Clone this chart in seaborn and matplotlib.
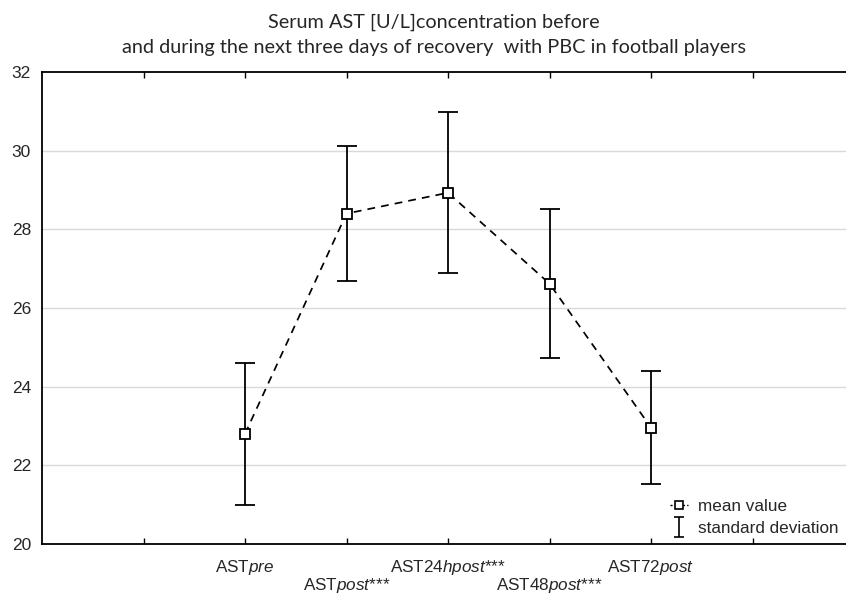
import matplotlib
matplotlib.use("Agg")
import matplotlib.pyplot as plt
import seaborn as sns
import pandas as pd
from matplotlib.lines import Line2D
from matplotlib.path import Path

# Serum AST values (mean and standard deviation) per measurement point
stages = ["pre", "post", "24hpost", "48post", "72post"]
stars = ["", "***", "***", "***", ""]
mean_ast = [22.8, 28.4, 28.93, 26.62, 22.96]
sd_ast = [1.8, 1.71, 2.05, 1.89, 1.43]
y_ticks = [20, 22, 24, 26, 28, 30, 32]

sns.set_theme(style="white")
plt.rcParams["font.family"] = ["Liberation Sans", "DejaVu Sans"]
plt.rcParams["mathtext.fontset"] = "custom"
plt.rcParams["mathtext.rm"] = "Liberation Sans"
plt.rcParams["mathtext.it"] = "Liberation Sans:italic"

df = pd.DataFrame({"pos": list(range(2, 2 + len(stages))),
                   "mean": mean_ast, "sd": sd_ast})

fig = plt.figure(figsize=(8.46, 5.95), dpi=100)
ax = fig.add_axes([42 / 846, 1 - 544 / 595, 1 - 42 / 846, (544 - 72) / 595])

# light horizontal grid
for v in y_ticks[1:-1]:
    ax.axhline(v, color="#d9d9d9", lw=1.0, zorder=0)

# standard deviation bars
ax.errorbar(df["pos"], df["mean"], yerr=df["sd"], fmt="none", ecolor="black",
            elinewidth=1.3, capsize=7.5, capthick=1.3, zorder=2)

# mean values joined by a dashed line
sns.lineplot(data=df, x="pos", y="mean", ax=ax, color="black", lw=1.25,
             linestyle=(0, (4.5, 3.5)), marker="s", markersize=7,
             markerfacecolor="white", markeredgecolor="black",
             markeredgewidth=1.3, zorder=3)

ax.set_xlim(0, (846 - 42) / 101.5)
ax.set_ylim(20, 32)
ax.set_yticks(y_ticks)
ax.set_yticklabels([str(v) for v in y_ticks], fontsize=12.5)

tick_pos = list(range(1, 8))
tick_labels = [""] + [r"AST$\mathit{%s}$%s" % (s, st) for s, st in zip(stages, stars)] + [""]
ax.set_xticks(tick_pos)
ax.set_xticklabels(tick_labels, fontsize=12.3)
ax.set_xlabel("")
ax.set_ylabel("")

ax.tick_params(axis="x", which="both", direction="in", length=4, width=1,
               top=True, bottom=True, color="black")
ax.tick_params(axis="y", which="both", length=0, pad=8)
for i, t in enumerate(ax.xaxis.get_major_ticks()):
    t.set_pad(10 if (i % 2 == 1) else 23)

for side in ("left", "bottom", "top"):
    ax.spines[side].set_visible(True)
    ax.spines[side].set_color("black")
    ax.spines[side].set_linewidth(1.3)
ax.spines["right"].set_visible(False)

# legend
ibeam = Path([(-0.55, -1), (0.55, -1), (0, -1), (0, 1), (-0.55, 1), (0.55, 1)],
             [Path.MOVETO, Path.LINETO, Path.MOVETO, Path.LINETO,
              Path.MOVETO, Path.LINETO])
mean_handle = Line2D([0], [0], color="black", lw=1.0, linestyle=(0, (1.5, 1.5)),
                     marker="s", markersize=6, markerfacecolor="white",
                     markeredgecolor="black", markeredgewidth=1.2)
sd_handle = Line2D([0], [0], color="black", linestyle="none", marker=ibeam,
                   markersize=14, markeredgewidth=1.2, markerfacecolor="none",
                   markeredgecolor="black")
ax.legend([mean_handle, sd_handle], ["mean value", "standard deviation"],
          loc="lower right", bbox_to_anchor=(1.0, 0.0), frameon=False,
          fontsize=12.3, handlelength=1.0, handletextpad=0.6,
          labelspacing=0.4, borderaxespad=0.05)

title_font = ["Lato", "DejaVu Sans"]
fig.text(434 / 846, 1 - 22 / 595, "Serum AST [U/L]concentration before",
         ha="center", va="center", fontsize=14.3, family=title_font)
fig.text(434 / 846, 1 - 48 / 595,
         "and during the next three days of recovery  with PBC in football players",
         ha="center", va="center", fontsize=14.3, family=title_font)

fig.savefig("out.png", dpi=100)
